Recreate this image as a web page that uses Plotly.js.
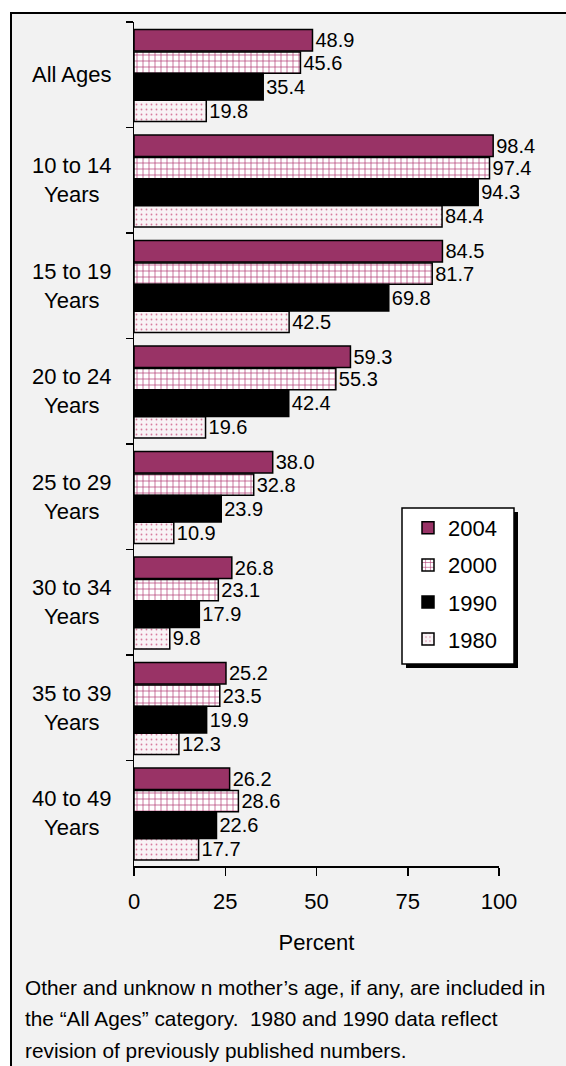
<!DOCTYPE html>
<html>
<head>
<meta charset="utf-8">
<script src="https://cdn.plot.ly/plotly-3.0.1.min.js"></script>
<style>
  html, body { margin: 0; padding: 0; background: #ffffff; }
  #frame { position: absolute; left: 10px; top: 12px; width: 556px; height: 1054px;
           background: #f2f2f2; border-left: 2px solid #000; border-top: 2px solid #000; box-sizing: border-box; }
  #chart { position: absolute; left: 0; top: 0; width: 566px; height: 1066px; }
</style>
</head>
<body>
<div id="frame"></div>
<div id="chart"></div>
<script>
// ---- data ----
const categories = ["All Ages", "10 to 14<br>Years", "15 to 19<br>Years", "20 to 24<br>Years",
                    "25 to 29<br>Years", "30 to 34<br>Years", "35 to 39<br>Years", "40 to 49<br>Years"];
const years = ["2004", "2000", "1990", "1980"];
const v2004 = [48.9, 98.4, 84.5, 59.3, 38.0, 26.8, 25.2, 26.2];
const v2000 = [45.6, 97.4, 81.7, 55.3, 32.8, 23.1, 23.5, 28.6];
const v1990 = [35.4, 94.3, 69.8, 42.4, 23.9, 17.9, 19.9, 22.6];
const v1980 = [19.8, 84.4, 42.5, 19.6, 10.9, 9.8, 12.3, 17.7];
const xTicks = [0, 25, 50, 75, 100];
const xTitle = "Percent";
const footnoteLines = [
  "Other and unknow n mother\u2019s age, if any, are included in",
  "the \u201cAll Ages\u201d category.  1980 and 1990 data reflect",
  "revision of previously published numbers."
];

// ---- layout helpers ----
const W = 566, H = 1066;
const M = { l: 134, r: 67, t: 22, b: 200 };
const PW = W - M.l - M.r, PH = H - M.t - M.b;
const px2x = px => (px - M.l) / PW;
const px2y = py => (H - M.b - py) / PH;
const FONT = "Liberation Sans, Arial, sans-serif";

const styles = [
  { color: "#993366", pattern: { shape: "" }, offset: -0.43, width: 0.205 },
  { color: "#ffffff", pattern: { shape: "+", fgcolor: "#b03a72", bgcolor: "#ffffff", size: 6, solidity: 0.22 }, offset: -0.215, width: 0.2 },
  { color: "#000000", pattern: { shape: "" }, offset: -0.013, width: 0.252 },
  { color: "#f8f3f5", pattern: { shape: ".", fgcolor: "#d77a9e", bgcolor: "#f8f3f5", size: 5, solidity: 0.1 }, offset: 0.241, width: 0.203 }
];
const series = [v2004, v2000, v1990, v1980];

const traces = series.map((vals, i) => ({
  type: "bar",
  orientation: "h",
  name: years[i],
  legendgroup: years[i],
  x: vals,
  y: categories,
  offset: styles[i].offset,
  width: styles[i].width,
  marker: { color: styles[i].color, pattern: styles[i].pattern, line: { color: "#000", width: 1.5 } },
  text: vals.map(v => v.toFixed(1)),
  textposition: "outside",
  textfont: { family: FONT, size: 20, color: "#000" },
  constraintext: "none",
  cliponaxis: false,
  hoverinfo: "skip"
}));

const annotations = [];
categories.forEach((c, i) => {
  annotations.push({
    xref: "paper", yref: "y", x: px2x(72), y: i, text: c, showarrow: false,
    xanchor: "center", yanchor: "middle", align: "center",
    font: { family: FONT, size: 22, color: "#000" }
  });
});
const fnY = [987, 1019, 1050];
footnoteLines.forEach((t, i) => {
  annotations.push({
    xref: "paper", yref: "paper", x: px2x(23), y: px2y(fnY[i]), text: t, showarrow: false,
    xanchor: "left", yanchor: "middle", align: "left",
    font: { family: FONT, size: 20.8, color: "#000" }
  });
});

const shapes = [
  // legend shadow
  { type: "rect", xref: "paper", yref: "paper", x0: px2x(406), x1: px2x(518), y0: px2y(512), y1: px2y(668),
    fillcolor: "#000", line: { width: 0 }, layer: "above" },
  // legend box
  { type: "rect", xref: "paper", yref: "paper", x0: px2x(402), x1: px2x(514), y0: px2y(508), y1: px2y(664),
    fillcolor: "#fff", line: { color: "#000", width: 1.5 }, layer: "above" }
];

const layout = {
  width: W, height: H,
  margin: M,
  paper_bgcolor: "rgba(0,0,0,0)",
  plot_bgcolor: "rgba(0,0,0,0)",
  font: { family: FONT, size: 22, color: "#000" },
  barmode: "group",
  bargap: 0.12,
  bargroupgap: 0,
  showlegend: true,
  legend: {
    x: px2x(408), y: px2y(507), xanchor: "left", yanchor: "top",
    bgcolor: "rgba(0,0,0,0)", borderwidth: 0,
    font: { family: FONT, size: 22, color: "#000" },
    traceorder: "grouped", tracegroupgap: 5.5
  },
  xaxis: {
    range: [0, 100], tickvals: xTicks, ticktext: xTicks.map(String),
    showgrid: false, zeroline: false, showline: true, linecolor: "#000", linewidth: 1.5,
    ticks: "outside", ticklen: 8, tickwidth: 1.5, tickcolor: "#000",
    tickfont: { family: FONT, size: 22, color: "#000" },
    ticklabelstandoff: 7,
    title: { text: xTitle, font: { family: FONT, size: 22, color: "#000" }, standoff: 21 },
    fixedrange: true
  },
  yaxis: {
    type: "category", autorange: "reversed",
    showticklabels: false, showgrid: false, zeroline: false,
    showline: true, linecolor: "#000", linewidth: 1.5,
    ticks: "outside", ticklen: 7, tickwidth: 1.5, tickcolor: "#000",
    tickson: "boundaries", fixedrange: true
  },
  annotations: annotations,
  shapes: shapes
};

Plotly.newPlot("chart", traces, layout, { displayModeBar: false, staticPlot: true });
</script>
</body>
</html>
